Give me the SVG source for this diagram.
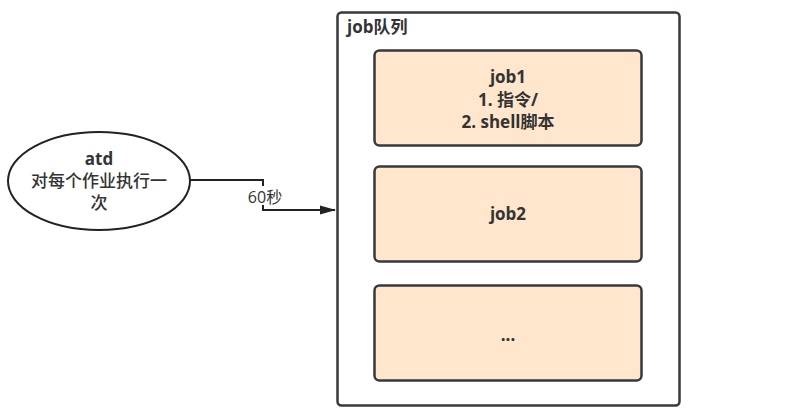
<svg xmlns="http://www.w3.org/2000/svg" width="788" height="417" viewBox="0 0 788 417">
<defs>
<style>
.t{font-family:"Open Sans","Noto Sans CJK SC",sans-serif;font-size:17px;fill:#333;text-anchor:middle}
.b{font-weight:bold}
.box{fill:#ffe6cc;stroke:#36393d;stroke-width:2.5}
.ln{fill:none;stroke:#222;stroke-width:2}
</style>
<marker id="ah" markerWidth="16" markerHeight="10" refX="15" refY="5" orient="auto" markerUnits="userSpaceOnUse" viewBox="0 0 16 10">
<path d="M0,0.5 L16,5 L0,9.5 Z" fill="#222"/>
</marker>
</defs>
<rect width="788" height="417" fill="#fff"/>
<g id="queue">
<rect x="337.5" y="12.5" width="342" height="393" rx="4" fill="#fff" stroke="#36393d" stroke-width="2.5"/>
<text x="347" y="33" class="t b" style="text-anchor:start">job队列</text>
</g>
<g id="job1">
<rect x="374.5" y="50.5" width="267" height="95" rx="5" class="box"/>
<text x="508" y="83" class="t b">job1</text>
<text x="508" y="106" class="t b">1. 指令/</text>
<text x="508" y="128" class="t b">2. shell脚本</text>
</g>
<g id="job2">
<rect x="374.5" y="166.5" width="267" height="95" rx="5" class="box"/>
<text x="508" y="220" class="t b">job2</text>
</g>
<g id="job3">
<rect x="374.5" y="285.5" width="267" height="95" rx="5" class="box"/>
<text x="508" y="341" class="t b">...</text>
</g>
<g id="atd">
<ellipse cx="99" cy="181" rx="91" ry="49" fill="#fff" stroke="#222" stroke-width="2"/>
<text x="99" y="165" class="t b">atd</text>
<text x="99" y="187" class="t" style="font-weight:500">对每个作业执行一</text>
<text x="99" y="209" class="t" style="font-weight:500">次</text>
</g>
<g id="connectors">
<path d="M190,180 H263 V210 H335" class="ln" marker-end="url(#ah)"/>
<rect x="244" y="186" width="40" height="19" fill="#fff"/>
<text x="265" y="203" class="t" style="font-size:16px">60秒</text>
</g>
</svg>
